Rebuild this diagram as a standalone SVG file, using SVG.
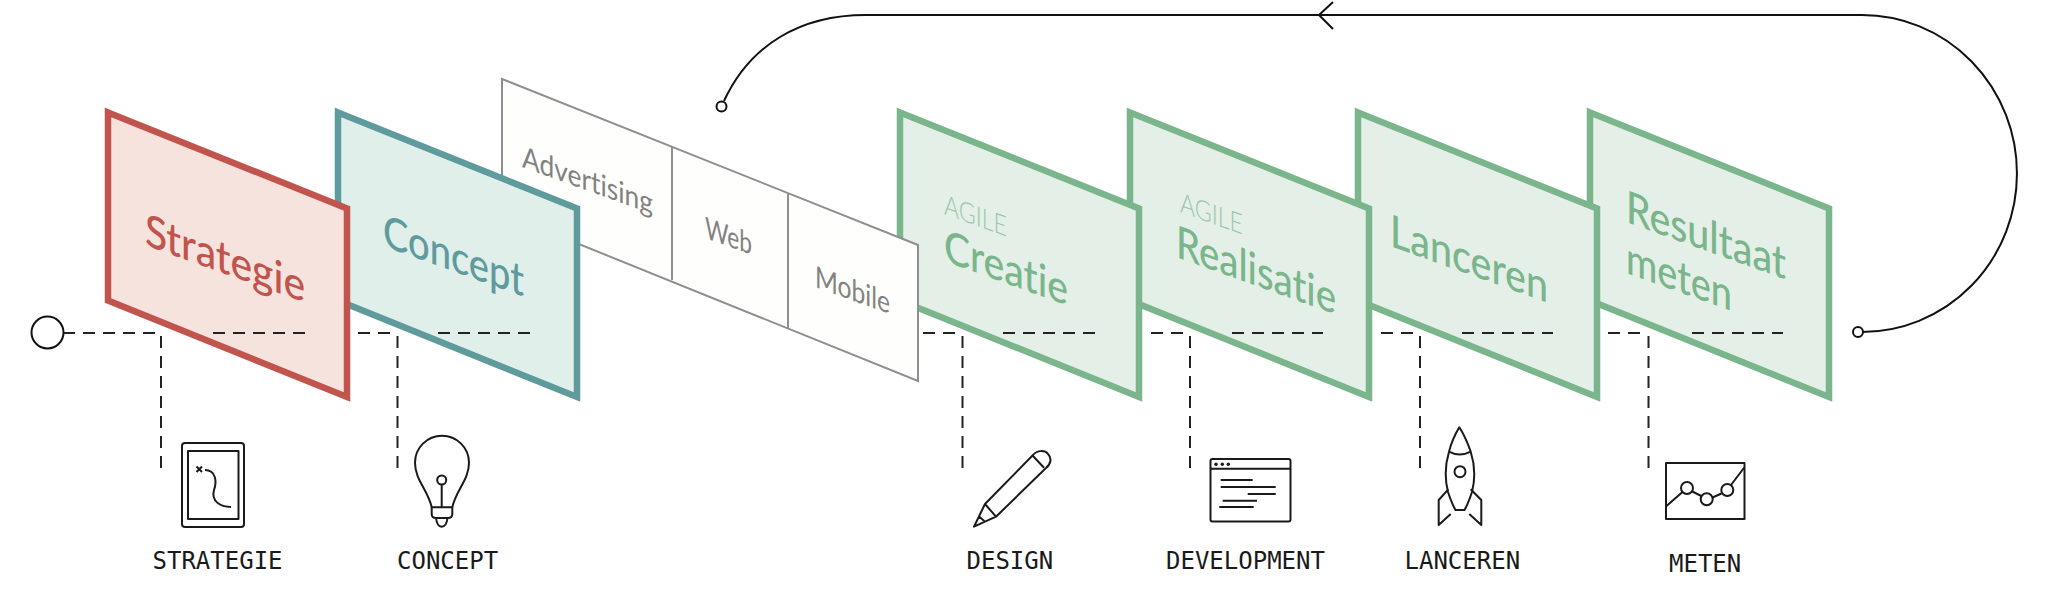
<svg xmlns="http://www.w3.org/2000/svg" width="2047" height="589" viewBox="0 0 2047 589">
<style>
text{font-variant-ligatures:none}
.panel{stroke-width:6.500;stroke-miterlimit:10}
.red{fill:#f6e3dd;stroke:#c1544c}
.teal{fill:#e0efea;stroke:#5f9a9c}
.green{fill:#e4f0e7;stroke:#7ab58c}
.t{font-family:"Lato","Open Sans",sans-serif;font-size:45px;font-weight:500}
.a{font-family:"Lato","Open Sans",sans-serif;font-size:28px;font-weight:300;fill:#9cc5aa}
.ad{font-family:"Lato","Open Sans",sans-serif;font-size:30px;fill:#828280}
.lbl{font-family:"DejaVu Sans Mono","Liberation Mono",monospace;font-size:24px;fill:#1a1a1a}
.ic{fill:none;stroke:#1a1a1a;stroke-width:2;stroke-linejoin:round}
.dash{fill:none;stroke:#222;stroke-width:2;stroke-dasharray:12 8}
.line{fill:none;stroke:#111;stroke-width:2}
.dot{fill:#fff;stroke:#111;stroke-width:2}
</style>
<defs>
<polygon id="p" points="0,112.400 239,208.500 239,397 0,300.500"/>
</defs>
<g id="node-resultaat"><use href="#p" x="1590" class="panel green"/>
<text class="t" fill="#7ab58c" textLength="160" lengthAdjust="spacingAndGlyphs" transform="matrix(1 .36 0 1 1626 222)">Resultaat</text>
<text class="t" fill="#7ab58c" textLength="106" lengthAdjust="spacingAndGlyphs" transform="matrix(1 .36 0 1 1626 273)">meten</text></g>
<g id="node-lanceren"><use href="#p" x="1358" class="panel green"/>
<text class="t" fill="#7ab58c" textLength="158" lengthAdjust="spacingAndGlyphs" transform="matrix(1 .36 0 1 1390 246)">Lanceren</text></g>
<g id="node-realisatie"><use href="#p" x="1130" class="panel green"/>
<text class="a" textLength="63" lengthAdjust="spacingAndGlyphs" transform="matrix(1 .36 0 1 1180 212)">AGILE</text>
<text class="t" fill="#7ab58c" textLength="160" lengthAdjust="spacingAndGlyphs" transform="matrix(1 .36 0 1 1176 257)">Realisatie</text></g>
<g id="node-creatie"><use href="#p" x="900" class="panel green"/>
<text class="a" textLength="63" lengthAdjust="spacingAndGlyphs" transform="matrix(1 .36 0 1 944 214)">AGILE</text>
<text class="t" fill="#7ab58c" textLength="124" lengthAdjust="spacingAndGlyphs" transform="matrix(1 .36 0 1 944 261)">Creatie</text></g>
<g id="node-ad">
<polygon points="502,79 918,245 918,381 502,213" fill="#fefefc" stroke="#8f8f8f" stroke-width="2"/>
<path d="M672 147V280M788 194V328" fill="none" stroke="#8f8f8f" stroke-width="2"/>
<text class="ad" textLength="131" lengthAdjust="spacingAndGlyphs" transform="matrix(1 .36 0 1 522 167)">Advertising</text>
<text class="ad" textLength="47" lengthAdjust="spacingAndGlyphs" transform="matrix(1 .36 0 1 705 238)">Web</text>
<text class="ad" textLength="75" lengthAdjust="spacingAndGlyphs" transform="matrix(1 .36 0 1 815 287)">Mobile</text></g>
<g id="node-concept"><use href="#p" x="338" class="panel teal"/>
<text class="t" fill="#5f9a9c" textLength="141" lengthAdjust="spacingAndGlyphs" transform="matrix(1 .36 0 1 383 246)">Concept</text></g>
<g id="node-strategie"><use href="#p" x="108" class="panel red"/>
<text class="t" fill="#c1544c" textLength="160" lengthAdjust="spacingAndGlyphs" transform="matrix(1 .36 0 1 145 245)">Strategie</text></g>
<g id="connectors">
<path class="dash" d="M63 333H160M161 336V468M213 333H305M358 333H397M397.500 336V468M438 333H530"/>
<path class="dash" d="M923 333H962M962.500 336V468M1003 333H1095M1151 333H1189M1190 336V468M1232 333H1323M1381 333H1419M1420 336V468M1462 333H1553M1608 333H1648M1648.500 336V468M1692 333H1783"/>
<path class="line" d="M1862 332A155 158.500 0 0 0 1862 15H866C800 15 750 45 724 101"/>
<path class="line" d="M1333 2L1319 15L1333 29"/>
<circle class="dot" cx="1858" cy="332" r="5"/>
<circle class="dot" cx="721.500" cy="106.500" r="5"/>
<circle class="dot" cx="47.500" cy="332.500" r="16"/>
</g>
<g id="node-icon-strategie">
<rect class="ic" x="182" y="443" width="62" height="84" rx="3"/>
<rect class="ic" x="188" y="451" width="50.500" height="68"/>
<path class="ic" d="M196.500 466.500L202 472M202 466.500L196.500 472M205 470C216 470 217 482 214 490C211 501 220 507 231 507"/>
<text class="lbl" x="152.500" y="568.500">STRATEGIE</text></g>
<g id="node-icon-concept">
<path class="ic" d="M431.700 507.300C428 490 415 480 415 462.700A27 27 0 0 1 469 462.700C469 480 456 490 452.300 507.300Z"/>
<circle class="ic" cx="441.700" cy="480" r="4.500"/>
<path class="ic" d="M441.700 484.500V507.300M431.700 507.300V514Q431.700 518 436 518H448Q452.300 518 452.300 514V507.300M436 518Q437 526.700 441.700 526.700Q446.500 526.700 447.500 518"/>
<text class="lbl" x="397" y="568.500">CONCEPT</text></g>
<g id="node-icon-design">
<path class="ic" d="M985 504L1033 455C1037 450 1045 450 1048 454C1052 458 1051 464 1046 468L996 516.700L974 526.700ZM985 504L996 516.700M1033 456L1044 467.700M979.300 516.700L984.300 521"/>
<text class="lbl" x="966.500" y="568.500">DESIGN</text></g>
<g id="node-icon-development">
<rect class="ic" x="1210.500" y="459" width="80" height="62.500" rx="2"/>
<path class="ic" d="M1210.500 468.700H1290.500M1220.700 480H1252.700M1220.700 487H1275.700M1247.700 494H1275.700M1222.700 500.700H1257M1219.300 507H1253.700"/>
<circle cx="1216" cy="464.300" r="1.700" fill="#1a1a1a"/><circle cx="1222.300" cy="464.300" r="1.700" fill="#1a1a1a"/><circle cx="1228.300" cy="464.300" r="1.700" fill="#1a1a1a"/>
<text class="lbl" x="1166" y="568.500">DEVELOPMENT</text></g>
<g id="node-icon-lanceren">
<path class="ic" d="M1459.300 427.300C1454 436 1451 444 1449 451.700Q1459.500 457.500 1470.700 451.700C1468 444 1465 436 1459.300 427.300ZM1449 451.700C1445 465 1445 480 1448 492C1450 498 1452 504 1455.500 510H1464.500C1468 504 1470 498 1472 492C1475 480 1475 465 1470.700 451.700"/>
<circle class="ic" cx="1460" cy="471.700" r="5.500"/>
<path class="ic" d="M1448.300 489.300L1438.700 500V525L1450.700 514M1470.700 489.300L1481.300 500V525L1469.300 514"/>
<text class="lbl" x="1404.500" y="568.500">LANCEREN</text></g>
<g id="node-icon-meten">
<rect class="ic" x="1666" y="463" width="78.500" height="56"/>
<path class="ic" d="M1666.500 506L1682.500 492M1692.300 491.500L1701.300 496M1712.500 497.500L1721.500 493.500M1731 485L1744.300 467.500"/>
<circle class="ic" cx="1687" cy="488" r="6"/><circle class="ic" cx="1706.700" cy="499.300" r="6"/><circle class="ic" cx="1727.300" cy="490" r="6"/>
<text class="lbl" x="1669" y="571.500">METEN</text></g>
</svg>
